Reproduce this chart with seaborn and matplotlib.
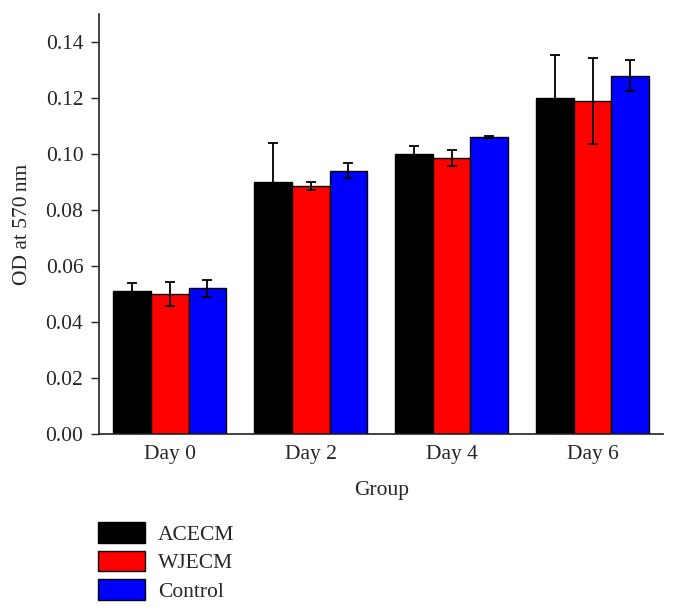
import matplotlib
matplotlib.use("Agg")
import matplotlib.pyplot as plt
import pandas as pd
import numpy as np
import seaborn as sns

# Values
days = ["Day 0", "Day 2", "Day 4", "Day 6"]
groups = ["ACECM", "WJECM", "Control"]
acecm = [0.051, 0.090, 0.100, 0.120]
wjecm = [0.050, 0.0886, 0.0986, 0.119]
control = [0.052, 0.094, 0.106, 0.128]
acecm_err = [0.003, 0.014, 0.0028, 0.0153]
wjecm_err = [0.0042, 0.0016, 0.003, 0.0155]
control_err = [0.003, 0.0027, 0.0004, 0.0055]

colors = ["#000000", "#ff0000", "#0000ff"]

df = pd.DataFrame({
    "day": days * 3,
    "group": [g for g in groups for _ in days],
    "od": acecm + wjecm + control,
    "err": acecm_err + wjecm_err + control_err,
})

sns.set_style("ticks")
plt.rcParams["font.family"] = ["Liberation Serif", "DejaVu Serif"]
fs = 15.5

fig = plt.figure(figsize=(6.79, 6.16), dpi=100)
ax = fig.add_axes([0.1463, 0.2955, 0.8302, 0.6815])

sns.barplot(data=df, x="day", y="od", hue="group", order=days, hue_order=groups,
            palette=colors, errorbar=None, width=0.8, edgecolor="black",
            linewidth=1.0, saturation=1, ax=ax)

# error bars at the centres of the bars seaborn drew
for container, g in zip(ax.containers, groups):
    sub = df[df["group"] == g].set_index("day").loc[days]
    xs = [p.get_x() + p.get_width() / 2 for p in container]
    hs = [p.get_height() for p in container]
    ax.errorbar(xs, hs, yerr=sub["err"].values, fmt="none", ecolor="black",
                elinewidth=1.3, capsize=3.8, capthick=1.3)

ax.set_xlim(-0.5, 3.5)
ax.set_ylim(0, 0.15)
ax.set_yticks(np.arange(0, 0.141, 0.02))
ax.set_yticklabels([f"{v:.2f}" for v in np.arange(0, 0.141, 0.02)])
ax.tick_params(axis="both", labelsize=fs, color="#222222", width=1.0)
ax.tick_params(axis="y", direction="out", length=5.5, pad=6)
ax.tick_params(axis="x", length=0, pad=8)
ax.set_xlabel("Group", fontsize=fs, labelpad=12)
ax.set_ylabel("OD at 570\u2009nm", fontsize=fs, labelpad=10)
for side in ["top", "right"]:
    ax.spines[side].set_visible(False)
for side in ["left", "bottom"]:
    ax.spines[side].set_color("#222222")
    ax.spines[side].set_linewidth(1.2)

handles, labels = ax.get_legend_handles_labels()
ax.get_legend().remove()
fig.legend(handles, labels, loc="upper left",
           bbox_to_anchor=(98 / 679, 1 - 522 / 616), frameon=False,
           fontsize=fs, handlelength=2.2, handleheight=1.1,
           labelspacing=0.28, handletextpad=0.6, borderpad=0, borderaxespad=0)

fig.savefig("out.png", dpi=100)
